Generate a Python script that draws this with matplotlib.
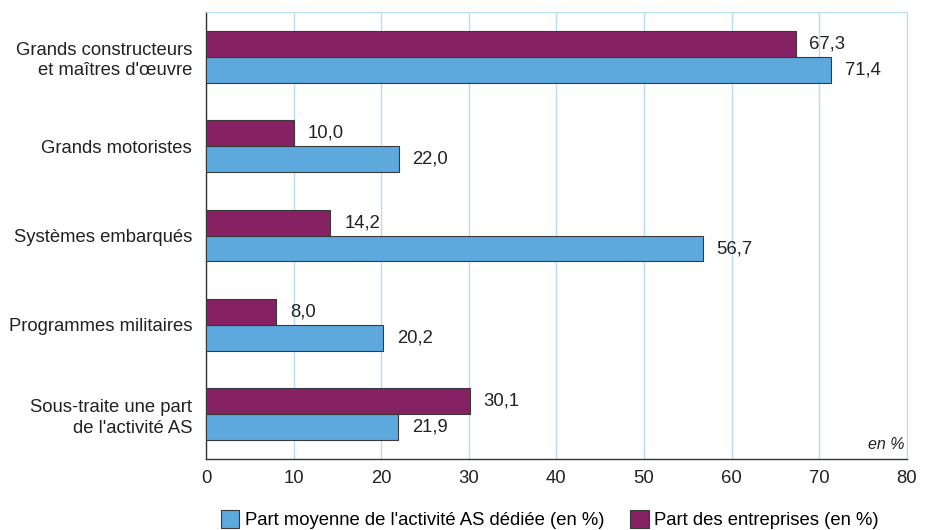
import matplotlib.pyplot as plt
import numpy as np

plt.rcParams["font.family"] = ["Liberation Sans", "DejaVu Sans"]

categories = [
    "Grands constructeurs\net maîtres d'œuvre",
    "Grands motoristes",
    "Systèmes embarqués",
    "Programmes militaires",
    "Sous-traite une part\nde l'activité AS",
]
part_activite = [71.4, 22.0, 56.7, 20.2, 21.9]
part_entreprises = [67.3, 10.0, 14.2, 8.0, 30.1]
x_ticks = [0, 10, 20, 30, 40, 50, 60, 70, 80]

blue = "#5DA9DD"
purple = "#862163"
edge = "#3a3a3a"
grid_color = "#b9dcf2"
text_color = "#222222"


def fmt(v: float) -> str:
    return f"{v:.1f}".replace(".", ",")


fig = plt.figure(figsize=(9.32, 5.30), dpi=100)
ax = fig.add_axes([0.221, 0.134, 0.752, 0.843])

y = np.arange(len(categories))
h = 0.29
bars_blue = ax.barh(y + h / 2, part_activite, height=h, color=blue, edgecolor=edge,
                    linewidth=0.8, label="Part moyenne de l'activité AS dédiée (en %)", zorder=3)
bars_purple = ax.barh(y - h / 2, part_entreprises, height=h, color=purple, edgecolor=edge,
                      linewidth=0.8, label="Part des entreprises (en %)", zorder=3)

for bars, vals in ((bars_blue, part_activite), (bars_purple, part_entreprises)):
    for b, v in zip(bars, vals):
        ax.annotate(fmt(v), (v, b.get_y() + b.get_height() / 2), xytext=(10, 0),
                    textcoords="offset points", ha="left", va="center",
                    fontsize=13.3, color=text_color, zorder=4)

ax.set_xlim(0, 80)
ax.set_ylim(len(categories) - 0.5, -0.5)
ax.set_xticks(x_ticks)
ax.set_yticks(y)
ax.set_yticklabels(categories, fontsize=13.3, color=text_color, multialignment="right",
                   linespacing=1.25)
ax.tick_params(axis="x", length=0, pad=8, labelsize=13.3, labelcolor=text_color)
ax.tick_params(axis="y", length=0, pad=10)
ax.xaxis.grid(True, color=grid_color, linewidth=1.0, zorder=0)
ax.set_axisbelow(True)

for side in ("top", "right"):
    ax.spines[side].set_color(grid_color)
for side in ("left", "bottom"):
    ax.spines[side].set_color("#333333")
    ax.spines[side].set_linewidth(1.0)

ax.text(0.997, 0.015, "en %", transform=ax.transAxes, ha="right", va="bottom",
        fontsize=11.5, style="italic", color=text_color)

handles = [bars_blue, bars_purple]
fig.legend(handles, [hh.get_label() for hh in handles], loc="lower center",
           bbox_to_anchor=(0.59, -0.03), ncol=2, frameon=False, fontsize=13.3,
           handlelength=1.0, handleheight=1.1, handletextpad=0.3, columnspacing=1.4)

fig.savefig("out.png", dpi=100)
plt.close(fig)
